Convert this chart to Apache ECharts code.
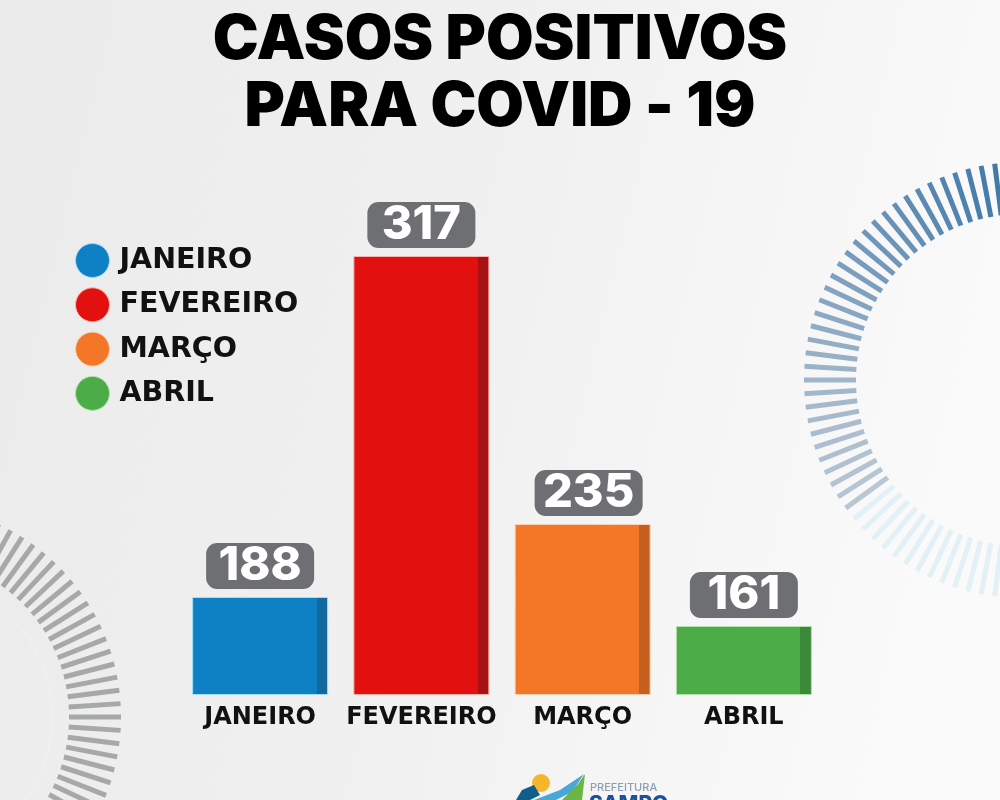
<!DOCTYPE html>
<html>
<head>
    <meta charset="utf-8">
    <title>Casos positivos para COVID - 19</title>
    <script src="https://cdn.jsdelivr.net/npm/echarts@6/dist/echarts.min.js"></script>
    <style>
        html, body { margin: 0; padding: 0; background: #f2f2f2; }
    </style>
</head>
<body>
    <div id="main" style="width: 1000px;height:800px;"></div>
    <script type="text/javascript">
        var meses = ['JANEIRO', 'FEVEREIRO', 'MARÇO', 'ABRIL'];
        // numbers printed on the bars
        var casos = [188, 317, 235, 161];
        // the source bars are not to scale with the printed numbers,
        // so the heights are read off the picture separately
        var alturas = [98, 439, 171, 69];
        var cores = ['#0e80c4', '#e2100f', '#f37727', '#4bac48'];
        var coresEscuras = ['#13689f', '#a81212', '#c4611f', '#3b8a38'];
        var coresBorda = ['#a5dcf5', '#fbb4b0', '#fcd0b0', '#b5e0b0'];

        var FONT = 'Inter, "Noto Sans", sans-serif';
        var FONT_LARGA = '"DejaVu Sans", sans-serif';

        var myChart = echarts.init(document.getElementById('main'));

        // one series per month so the legend lists them, all on the same slot
        var series = meses.map(function (mes, i) {
            return {
                name: mes,
                type: 'bar',
                barWidth: 136,
                barGap: '-100%',
                data: alturas.map(function (h, j) { return j === i ? h : null; }),
                itemStyle: {
                    // hard stop gives the darker strip on the right side
                    color: new echarts.graphic.LinearGradient(0, 0, 1, 0, [
                        { offset: 0, color: cores[i] },
                        { offset: 0.915, color: cores[i] },
                        { offset: 0.915, color: coresEscuras[i] },
                        { offset: 1, color: coresEscuras[i] }
                    ]),
                    borderColor: coresBorda[i],
                    borderWidth: 1
                },
                label: {
                    show: true,
                    position: 'top',
                    distance: 8,
                    // the box over MARÇO sits a little to the right in the source
                    offset: [i === 2 ? 6 : 0, 0],
                    formatter: function () { return casos[i]; },
                    color: '#fff',
                    fontFamily: FONT,
                    fontWeight: 800,
                    fontSize: 47,
                    backgroundColor: '#6e6f72',
                    borderRadius: 11,
                    width: 108,
                    height: 46,
                    lineHeight: 46,
                    align: 'center'
                }
            };
        });

        // tick rings in the background
        function anel(cx, cy, r0, r1, passo, larg, corDe) {
            var els = [];
            for (var k = 0; k < 360 / passo; k++) {
                var a = k * passo;
                var rad = a * Math.PI / 180;
                var cos = Math.cos(rad), sin = Math.sin(rad);
                els.push({
                    type: 'line',
                    silent: true,
                    z: 0,
                    shape: { x1: cx + r0 * cos, y1: cy + r0 * sin, x2: cx + r1 * cos, y2: cy + r1 * sin },
                    style: { stroke: corDe(a), lineWidth: larg }
                });
            }
            return els;
        }

        function corAzul(a) {
            // a is clockwise from +x; 180 = left, 270 = top
            if (a < 141) return '#e3f0f6';
            if (a < 180) return echarts.color.lerp((a - 141) / 39, ['#bac8d5', '#a0b5c9']);
            return echarts.color.lerp(Math.min((a - 180) / 90, 1), ['#a0b5c9', '#3a75a7']);
        }

        var graficos = []
            .concat(anel(1022, 380, 166, 218, 3.6, 5, corAzul))
            .concat(anel(-92, 717, 161, 213, 3.6, 5, function () { return '#a6a8a9'; }));

        graficos.push({
            type: 'circle', silent: true, z: 0,
            shape: { cx: -92, cy: 717, r: 144 },
            style: { fill: 'none', stroke: '#eef0f2', lineWidth: 1.5 }
        });

        // logo at the bottom, cut off by the edge like the source
        graficos.push(
            { type: 'circle', silent: true, z: 1, shape: { cx: 541, cy: 783, r: 9 }, style: { fill: '#f7b52c' } },
            { type: 'polygon', silent: true, z: 1, shape: { points: [[516, 800], [522, 790], [534, 785], [540, 795], [530, 800]] }, style: { fill: '#0f5f88' } },
            { type: 'polygon', silent: true, z: 1, shape: { points: [[534, 800], [560, 790], [584, 774], [572, 792], [556, 800]] }, style: { fill: '#4aa8d8' } },
            { type: 'polygon', silent: true, z: 1, shape: { points: [[562, 800], [578, 784], [585, 774], [582, 800]] }, style: { fill: '#6cb544' } },
            { type: 'text', silent: true, z: 1, style: { x: 590, y: 782, text: 'PREFEITURA', fill: '#8f9db5', font: '500 11px ' + FONT } },
            { type: 'text', silent: true, z: 1, style: { x: 589, y: 794, text: 'SAMPO', fill: '#1d4f9c', font: '800 21px ' + FONT } }
        );

        var option = {
            animation: false,
            backgroundColor: new echarts.graphic.LinearGradient(0, 0, 1, 0.3, [
                { offset: 0, color: '#ebebeb' },
                { offset: 0.5, color: '#f0f0f0' },
                { offset: 1, color: '#fafafa' }
            ]),
            title: {
                text: 'CASOS POSITIVOS\nPARA COVID - 19',
                left: 495,
                top: 2,
                textAlign: 'center',
                textStyle: {
                    color: '#000',
                    fontFamily: FONT,
                    fontWeight: 900,
                    fontSize: 61.5,
                    lineHeight: 67
                }
            },
            legend: {
                orient: 'vertical',
                left: 75,
                top: 243,
                padding: 0,
                icon: 'circle',
                itemWidth: 34,
                itemHeight: 34,
                itemGap: 9.3,
                selectedMode: false,
                data: meses.map(function (mes, i) {
                    return { name: mes, itemStyle: { color: cores[i], borderColor: coresBorda[i], borderWidth: 1 } };
                }),
                textStyle: {
                    color: '#111',
                    fontFamily: FONT_LARGA,
                    fontWeight: 700,
                    fontSize: 28.5,
                    padding: [0, 0, 0, 5]
                }
            },
            grid: { left: 179.5, width: 645, top: 101, height: 594 },
            xAxis: {
                type: 'category',
                data: meses,
                axisLine: { show: false },
                axisTick: { show: false },
                axisLabel: {
                    color: '#111',
                    margin: 11,
                    fontFamily: FONT_LARGA,
                    fontWeight: 700,
                    fontSize: 24,
                    interval: 0
                }
            },
            yAxis: { type: 'value', min: 0, max: 594, show: false },
            graphic: { elements: graficos },
            series: series
        };

        myChart.setOption(option);
    </script>
</body>
</html>
